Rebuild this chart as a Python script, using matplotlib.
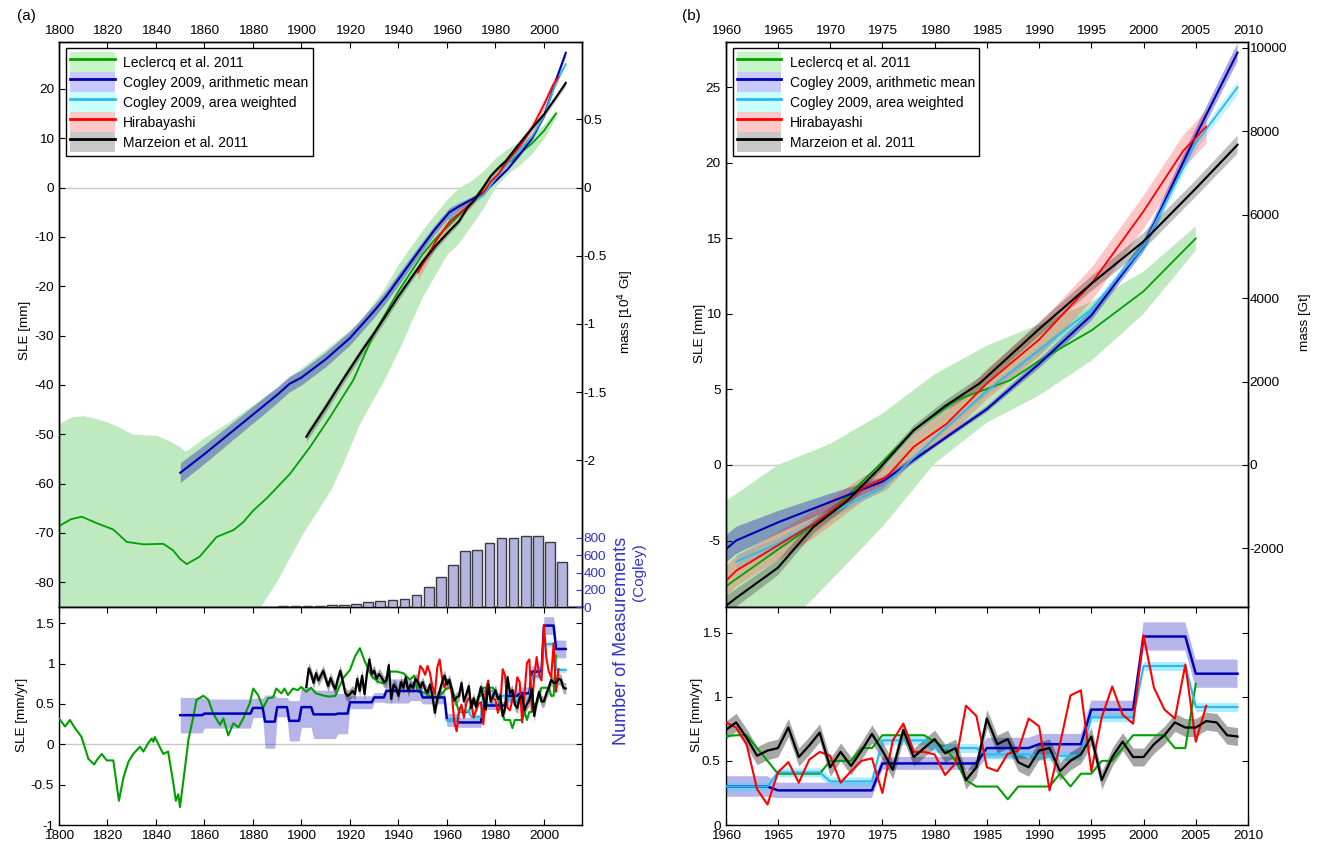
import numpy as np
import matplotlib
matplotlib.use('Agg')
import matplotlib.pyplot as plt
from matplotlib.patches import Patch
from matplotlib.lines import Line2D
from matplotlib.ticker import FuncFormatter

plt.rcParams['font.family'] = ['Liberation Sans', 'DejaVu Sans']
plt.rcParams['font.size'] = 9.7
plt.rcParams['axes.unicode_minus'] = False
plt.rcParams['xtick.direction'] = 'in'
plt.rcParams['ytick.direction'] = 'in'
plt.rcParams['xtick.major.size'] = 4
plt.rcParams['ytick.major.size'] = 4
plt.rcParams['axes.linewidth'] = 1.0

# ---------------- DATA ----------------
labels = ['Leclercq et al. 2011', 'Cogley 2009, arithmetic mean',
          'Cogley 2009, area weighted', 'Hirabayashi', 'Marzeion et al. 2011']

# cumulative SLE [mm]
lec_years = [1800, 1805, 1809.4, 1815.5, 1822.4, 1827.9, 1834.8, 1843, 1847, 1850,
             1852.7, 1858, 1865, 1872, 1876, 1880, 1885.6, 1895.3, 1903.5, 1911.8,
             1921.4, 1930, 1940, 1950, 1955, 1961, 1965.2, 1970, 1974.8, 1978,
             1982.1, 1987.2, 1990, 1995, 2000, 2005]
lec_sle = [-68.6, -67.2, -66.7, -68.0, -69.3, -71.8, -72.3, -72.2, -73.5, -75.3,
           -76.3, -74.8, -70.8, -69.4, -67.8, -65.5, -63.0, -58.0, -52.6, -46.5,
           -39.0, -29.5, -21.0, -13.5, -10.5, -7.55, -5.5, -3.2, 0.07, 2.3,
           4.3, 5.6, 6.9, 8.9, 11.5, 15.0]
lec_band_years = [1800, 1805, 1810, 1815, 1820, 1825, 1830, 1835, 1840, 1845, 1850, 1852,
                  1855, 1860, 1870, 1880, 1883, 1890, 1900, 1912, 1917, 1924, 1934, 1940,
                  1950, 1960, 1965, 1970, 1975, 1980, 1985, 1990, 1995, 2000, 2005]
lec_band_upper = [-47.8, -46.5, -46.2, -46.8, -47.5, -48.6, -49.9, -50.1, -50.2, -51.2,
                  -52.6, -53.4, -52.5, -50.6, -47.5, -44.0, -43.0, -40.5, -36.5, -32.0,
                  -30.0, -27.0, -20.5, -15.5, -8.5, -2.4, 0.0, 1.4, 3.4, 6.0, 7.9, 9.3,
                  10.8, 12.8, 15.8]
lec_band_lower = [-95, -95, -95, -95, -95, -95, -95, -95, -95, -95, -95, -95, -95, -95,
                  -93, -88, -85, -79.6, -70.5, -61.3, -56, -47.8, -39, -33, -22, -13.5,
                  -11.2, -7.7, -4.1, 0.1, 2.8, 4.6, 6.9, 10.0, 14.2]

cog_years = [1850, 1860, 1870, 1880, 1885, 1890, 1895, 1900, 1910, 1920, 1930, 1935, 1940,
             1950, 1955, 1961, 1965, 1970, 1975, 1980, 1985, 1990, 1995, 2000, 2005, 2009]
cog_sle = [-57.8, -54.0, -50.0, -46.0, -44.0, -42.0, -39.8, -38.5, -34.8, -30.5, -25.0,
           -22.0, -18.6, -11.8, -8.5, -5.0, -3.8, -2.45, -1.1, 1.3, 3.7, 6.7, 9.9, 14.5,
           21.8, 27.3]
cog_sle_err = [2.0, 1.9, 1.8, 1.7, 1.7, 1.6, 1.6, 1.5, 1.5, 1.4, 1.3, 1.2, 1.2, 1.0, 0.95,
               0.9, 0.75, 0.55, 0.3, 0.15, 0.2, 0.3, 0.35, 0.4, 0.5, 0.6]

cogw_years = [1961, 1965, 1970, 1975, 1980, 1985, 1990, 1995, 2000, 2005, 2009]
cogw_sle = [-6.4, -5.2, -3.2, -1.5, 1.8, 4.9, 7.6, 10.3, 14.5, 21.3, 25.0]
cogw_sle_err = [0.5, 0.4, 0.3, 0.2, 0.1, 0.2, 0.25, 0.3, 0.35, 0.4, 0.45]

hir_years = [1948, 1952, 1956, 1961, 1963.6, 1968.4, 1973.2, 1975.4, 1978, 1981.1, 1982.7,
             1985, 1990, 1995, 2000, 2001.9, 2003.8, 2006]
hir_sle = [-17.2, -13.8, -10.4, -7.0, -5.9, -3.9, -1.5, -0.8, 1.2, 2.7, 3.8, 5.4, 8.3,
           12.0, 16.8, 18.8, 20.8, 22.4]
hir_sle_err = [1.5, 1.4, 1.2, 1.0, 0.95, 0.9, 0.8, 0.8, 0.85, 0.9, 0.95, 1.0, 1.1, 1.1,
               1.1, 1.1, 1.1, 1.1]

mar_years = [1902, 1910, 1917, 1925, 1930, 1940, 1950, 1955, 1961, 1965, 1968.4, 1971.6,
             1974.8, 1978, 1981, 1984.3, 1990, 1995, 2000, 2005, 2009]
mar_sle = [-50.5, -44.5, -39.0, -33.0, -29.5, -22.0, -15.0, -12.0, -8.8, -6.8, -4.1, -2.4,
           -0.16, 2.3, 3.9, 5.4, 9.0, 12.0, 14.8, 18.3, 21.2]
mar_sle_err = [1.0, 1.0, 0.9, 0.9, 0.9, 0.8, 0.7, 0.65, 0.6, 0.5, 0.45, 0.4, 0.3, 0.3,
               0.35, 0.4, 0.45, 0.5, 0.55, 0.55, 0.6]

# number of measurements (Cogley), 5-year bins
nmeas_years = [1887.5, 1892.5, 1897.5, 1902.5, 1907.5, 1912.5, 1917.5, 1922.5, 1927.5,
               1932.5, 1937.5, 1942.5, 1947.5, 1952.5, 1957.5, 1962.5, 1967.5, 1972.5,
               1977.5, 1982.5, 1987.5, 1992.5, 1997.5, 2002.5, 2007.5]
nmeas = [5, 8, 10, 12, 15, 18, 22, 30, 54, 73, 85, 97, 143, 232, 344, 483, 649, 661, 738,
         800, 800, 827, 827, 750, 522]

# rates [mm/yr]
lec_rate_early = [(1800, 0.32), (1802.5, 0.22), (1804.5, 0.30), (1806.6, 0.20), (1809.3, 0.09),
                  (1812.1, -0.18), (1814.5, -0.25), (1815.5, -0.20), (1817.6, -0.12),
                  (1819.7, -0.20), (1822.4, -0.20), (1824.7, -0.70), (1826.6, -0.41),
                  (1828.6, -0.22), (1830.6, -0.12), (1833.4, -0.03), (1834.8, -0.09),
                  (1836.9, 0.02), (1838.2, 0.07), (1838.9, 0.03), (1839.5, 0.09),
                  (1843, -0.12), (1845, -0.09), (1847.1, -0.47), (1848.2, -0.70),
                  (1849.2, -0.62), (1849.9, -0.78), (1852, -0.28), (1853.4, 0.06),
                  (1855.4, 0.34), (1856.7, 0.55), (1859.5, 0.60), (1861.6, 0.55),
                  (1863.6, 0.38), (1866.4, 0.24), (1867.8, 0.32), (1869.8, 0.11),
                  (1871.9, 0.26), (1874, 0.21), (1876, 0.32), (1878.7, 0.51), (1880.1, 0.69),
                  (1882.1, 0.61), (1884.2, 0.45), (1886.2, 0.57), (1888.3, 0.58),
                  (1889.6, 0.69), (1891.7, 0.63), (1893, 0.69), (1894.4, 0.61),
                  (1896.5, 0.69), (1898.5, 0.67), (1899.9, 0.71), (1901.9, 0.65), (1904, 0.70),
                  (1906, 0.63), (1909.5, 0.60), (1911.5, 0.59), (1914, 0.60), (1917.2, 0.82),
                  (1920, 0.92), (1922.1, 1.09), (1924.1, 1.19), (1926.2, 1.02), (1929, 0.84),
                  (1931.7, 0.77), (1934.5, 0.75), (1936.5, 0.90), (1939.3, 0.90),
                  (1942, 0.88), (1944.7, 0.80), (1946.5, 0.85), (1948, 0.65), (1950.9, 0.64),
                  (1953.6, 0.58), (1957, 0.60), (1959.8, 0.69)]
lec_rate_years = list(range(1961, 2006))
lec_rate = [0.70, 0.70, 0.60, 0.50, 0.40, 0.40, 0.40, 0.40, 0.40, 0.50,
            0.50, 0.50, 0.60, 0.60, 0.70, 0.70, 0.70, 0.70, 0.70, 0.65,
            0.60, 0.50, 0.35, 0.30, 0.30, 0.30, 0.20, 0.30, 0.30, 0.30,
            0.30, 0.40, 0.30, 0.40, 0.40, 0.50, 0.50, 0.60, 0.70, 0.70,
            0.70, 0.70, 0.60, 0.60, 1.10]

cog_pentads = list(range(1850, 2010, 5))
cog_rate = [0.36, 0.36, 0.38, 0.38, 0.38, 0.38, 0.45, 0.28, 0.46, 0.29, 0.46, 0.37, 0.37,
            0.38, 0.52, 0.52, 0.58, 0.66, 0.66, 0.66, 0.58, 0.58, 0.30, 0.27, 0.27, 0.48,
            0.48, 0.60, 0.63, 0.90, 1.47, 1.18]
cog_rate_err = [0.22, 0.22, 0.18, 0.18, 0.18, 0.18, 0.12, 0.33, 0.12, 0.25, 0.25, 0.30, 0.30,
                0.25, 0.08, 0.08, 0.06, 0.15, 0.15, 0.12, 0.08, 0.08, 0.08, 0.06, 0.06, 0.05,
                0.05, 0.08, 0.08, 0.07, 0.11, 0.11]
cogw_pentads = list(range(1960, 2010, 5))
cogw_rate = [0.30, 0.41, 0.34, 0.66, 0.60, 0.55, 0.54, 0.84, 1.24, 0.92]
cogw_rate_err = [0.035] * 10

hir_rate_years = list(range(1948, 2007))
hir_rate = [0.80, 0.97, 0.93, 0.86, 0.97, 0.88, 0.72, 0.62, 0.95, 1.05, 0.82, 0.70, 0.80,
            0.76, 0.63, 0.28, 0.16, 0.41, 0.49, 0.33, 0.51, 0.57, 0.54,
            0.33, 0.42, 0.50, 0.52, 0.25, 0.66, 0.79, 0.57, 0.57, 0.55,
            0.39, 0.48, 0.93, 0.85, 0.45, 0.42, 0.555, 0.58, 0.83, 0.77,
            0.27, 0.63, 1.01, 1.05, 0.42, 0.84, 1.08, 0.86, 0.79, 1.48,
            1.07, 0.90, 0.83, 1.25, 0.65, 0.93]

mar_rate_years = list(range(1902, 2010))
mar_rate = [0.71, 0.94, 0.87, 0.76, 0.88, 0.79, 0.85, 0.91, 0.81, 0.72,
            0.82, 0.74, 0.68, 0.81, 0.91, 0.79, 0.64, 0.60, 0.62, 0.66,
            0.62, 0.81, 0.66, 0.85, 0.62, 0.88, 1.05, 0.87, 0.91, 0.81,
            0.87, 0.83, 0.77, 0.79, 0.98, 0.56, 0.74, 0.70, 0.60, 0.77,
            0.70, 0.83, 0.66, 0.74, 0.70, 0.81, 0.77, 0.70, 0.77, 0.68,
            0.64, 0.74, 0.60, 0.39, 0.56, 0.66, 0.77, 0.85, 0.74,
            0.80, 0.68, 0.54, 0.58, 0.60, 0.76, 0.53, 0.62, 0.72, 0.45,
            0.57, 0.46, 0.58, 0.71, 0.58, 0.43, 0.74, 0.53, 0.60, 0.67,
            0.56, 0.60, 0.35, 0.45, 0.83, 0.63, 0.67, 0.49, 0.45, 0.58,
            0.60, 0.42, 0.50, 0.55, 0.69, 0.35, 0.53, 0.65, 0.53, 0.53,
            0.63, 0.70, 0.80, 0.76, 0.76, 0.81, 0.80, 0.70, 0.69]
mar_rate_err = 0.07

GT_PER_MM = 362.0

# ---------------- STYLE ----------------
C_GREEN = '#00a000'
C_BLUE = '#0000b4'
C_CYAN = '#30b8ee'
C_RED = '#ff0000'
C_BLACK = '#000000'
F_GREEN = '#bfe9bf'
LEG_FILLS = ['#c8f5c8', '#c8c8ff', '#c8ffff', '#ffc8c8', '#c8c8c8']
LEG_LINES = [C_GREEN, C_BLUE, C_CYAN, C_RED, C_BLACK]
ZERO = '#c8c8c8'
fmt = FuncFormatter(lambda v, p: '%g' % v)

W, H = 1317, 850
fig = plt.figure(figsize=(W / 100, H / 100), dpi=100)


def box(x0, y0, x1, y1):
    return [x0 / W, 1 - y1 / H, (x1 - x0) / W, (y1 - y0) / H]


axA = fig.add_axes(box(59, 42, 582, 607))
axAb = fig.add_axes(box(59, 607, 582, 825))
axB = fig.add_axes(box(725.7, 42, 1248, 607))
axBb = fig.add_axes(box(725.7, 607, 1248, 825))

cog_ann_years = np.arange(cog_pentads[0], cog_pentads[-1] + 5)
cog_ann = np.repeat(cog_rate, 5)
cog_ann_err = np.repeat(cog_rate_err, 5)
cogw_ann_years = np.arange(cogw_pentads[0], cogw_pentads[-1] + 5)
cogw_ann = np.repeat(cogw_rate, 5)
cogw_ann_err = np.repeat(cogw_rate_err, 5)
lec_e = np.array(lec_rate_early)
lec_all_years = np.concatenate([lec_e[:, 0], lec_rate_years])
lec_all = np.concatenate([lec_e[:, 1], lec_rate])
mar_r = np.array(mar_rate)


def draw_top(ax):
    ax.fill_between(lec_band_years, lec_band_lower, lec_band_upper, color=F_GREEN, lw=0, zorder=1)
    c = np.array(cog_sle); e = np.array(cog_sle_err)
    ax.fill_between(cog_years, c - e, c + e, color='#1a1ab4', alpha=0.38, lw=0, zorder=2)
    c = np.array(cogw_sle); e = np.array(cogw_sle_err)
    ax.fill_between(cogw_years, c - e, c + e, color='#00d0ff', alpha=0.25, lw=0, zorder=2)
    c = np.array(hir_sle); e = np.array(hir_sle_err)
    ax.fill_between(hir_years, c - e, c + e, color='#ff2020', alpha=0.25, lw=0, zorder=2)
    c = np.array(mar_sle); e = np.array(mar_sle_err)
    ax.fill_between(mar_years, c - e, c + e, color='#000000', alpha=0.25, lw=0, zorder=2)
    ax.axhline(0, color=ZERO, lw=1, zorder=0.5)
    ax.plot(lec_years, lec_sle, color=C_GREEN, lw=1.3, zorder=3)
    ax.plot(cog_years, cog_sle, color=C_BLUE, lw=1.5, zorder=3)
    ax.plot(cogw_years, cogw_sle, color=C_CYAN, lw=1.3, zorder=3)
    ax.plot(hir_years, hir_sle, color=C_RED, lw=1.3, zorder=3)
    ax.plot(mar_years, mar_sle, color=C_BLACK, lw=1.5, zorder=3)


def draw_rate(ax):
    ax.axhline(0, color=ZERO, lw=1, zorder=0.5)
    ax.fill_between(cog_ann_years, cog_ann - cog_ann_err, cog_ann + cog_ann_err,
                    color='#2020c0', alpha=0.33, lw=0, zorder=1)
    ax.fill_between(cogw_ann_years, cogw_ann - cogw_ann_err, cogw_ann + cogw_ann_err,
                    color='#40d8ff', alpha=0.45, lw=0, zorder=1)
    ax.fill_between(mar_rate_years, mar_r - mar_rate_err, mar_r + mar_rate_err,
                    color='#000000', alpha=0.35, lw=0, zorder=1)
    ax.plot(lec_all_years, lec_all, color=C_GREEN, lw=1.5, zorder=3)
    ax.plot(cog_ann_years, cog_ann, color=C_BLUE, lw=1.8, zorder=3)
    ax.plot(cogw_ann_years, cogw_ann, color=C_CYAN, lw=1.5, zorder=3)
    ax.plot(hir_rate_years, hir_rate, color=C_RED, lw=1.5, zorder=3)
    ax.plot(mar_rate_years, mar_rate, color=C_BLACK, lw=1.6, zorder=4)


# ---------- panel (a) ----------
draw_top(axA)
axA.set_xlim(1800, 2015.7)
axA.set_ylim(-85, 29.5)
axA.set_xticks(range(1800, 2001, 20))
axA.set_yticks(range(-80, 21, 10))
axA.yaxis.set_major_formatter(fmt)
axA.tick_params(axis='x', top=True, bottom=False, labeltop=True, labelbottom=False)
axA.tick_params(axis='y', left=True, right=False)

axAm = axA.twinx()
axAm.set_ylim(-85 * GT_PER_MM / 1e4, 29.5 * GT_PER_MM / 1e4)
axAm.set_yticks([-2, -1.5, -1, -0.5, 0, 0.5])
axAm.yaxis.set_major_formatter(fmt)
axAm.tick_params(axis='y', direction='in', pad=1)

axAn = axA.twinx()
axAn.set_ylim(0, 800 * 565 / 69)
axAn.bar(nmeas_years, nmeas, width=4.0, color='#b4b4e0', edgecolor='#3c3c3c', linewidth=1.0, zorder=2)
axAn.set_yticks([0, 200, 400, 600, 800])
axAn.tick_params(axis='y', direction='in', colors='#3232c8', pad=1)
for s in axAn.spines.values():
    s.set_visible(False)

handles = [(Patch(facecolor=f, edgecolor='none'), Line2D([], [], color=c, lw=2))
           for f, c in zip(LEG_FILLS, LEG_LINES)]
for ax in (axA, axB):
    leg = ax.legend(handles, labels, loc='upper left', bbox_to_anchor=(7 / 523, 1 - 6 / 565),
                    borderaxespad=0, handlelength=3.2, handleheight=1.84, labelspacing=0,
                    handletextpad=0.62, borderpad=0.3, frameon=True, fancybox=False,
                    edgecolor='black', fontsize=10, framealpha=1)
    leg.get_frame().set_linewidth(1.0)
    leg.set_zorder(10)

draw_rate(axAb)
axAb.set_xlim(1800, 2015.7)
axAb.set_ylim(-1, 1.7)
axAb.set_xticks(range(1800, 2001, 20))
axAb.set_yticks([-1, -0.5, 0, 0.5, 1, 1.5])
axAb.yaxis.set_major_formatter(fmt)
axAb.tick_params(axis='x', top=True, bottom=True)
axAb.tick_params(axis='y', left=True, right=True)

# ---------- panel (b) ----------
draw_top(axB)
axB.set_xlim(1960, 2010)
axB.set_ylim(-9.4, 28.0)
axB.set_xticks(range(1960, 2011, 5))
axB.set_yticks(range(-5, 26, 5))
axB.tick_params(axis='x', top=True, bottom=False, labeltop=True, labelbottom=False)
axB.tick_params(axis='y', left=True, right=False)
axBm = axB.twinx()
axBm.set_ylim(-9.4 * GT_PER_MM, 28.0 * GT_PER_MM)
axBm.set_yticks([-2000, 0, 2000, 4000, 6000, 8000, 10000])
axBm.tick_params(axis='y', direction='in', pad=1)

draw_rate(axBb)
axBb.set_xlim(1960, 2010)
axBb.set_ylim(0, 1.7)
axBb.set_xticks(range(1960, 2011, 5))
axBb.set_yticks([0, 0.5, 1, 1.5])
axBb.yaxis.set_major_formatter(fmt)
axBb.tick_params(axis='x', top=True, bottom=True)
axBb.tick_params(axis='y', left=True, right=True)

for ax in (axA, axAb, axB, axBb):
    ax.set_facecolor('white')

# ---------- texts ----------
fig.text(26 / W, 1 - 16 / H, '(a)', ha='center', va='center', fontsize=11)
fig.text(691 / W, 1 - 16 / H, '(b)', ha='center', va='center', fontsize=11)
fig.text(25 / W, 1 - 330 / H, 'SLE [mm]', rotation=90, ha='center', va='center')
fig.text(22 / W, 1 - 715 / H, 'SLE [mm/yr]', rotation=90, ha='center', va='center')
fig.text(626 / W, 1 - 312 / H, 'mass [10$^4$ Gt]', rotation=90, ha='center', va='center')
fig.text(621 / W, 1 - 641 / H, 'Number of Measurements', rotation=90, ha='center',
         va='center', color='#3232c8', fontsize=13)
fig.text(639 / W, 1 - 572 / H, '(Cogley)', rotation=90, ha='center', va='center',
         color='#3232c8', fontsize=11)
fig.text(700 / W, 1 - 333 / H, 'SLE [mm]', rotation=90, ha='center', va='center')
fig.text(697 / W, 1 - 715 / H, 'SLE [mm/yr]', rotation=90, ha='center', va='center')
fig.text(1305 / W, 1 - 322 / H, 'mass [Gt]', rotation=90, ha='center', va='center')

fig.savefig('out.png', dpi=100)
